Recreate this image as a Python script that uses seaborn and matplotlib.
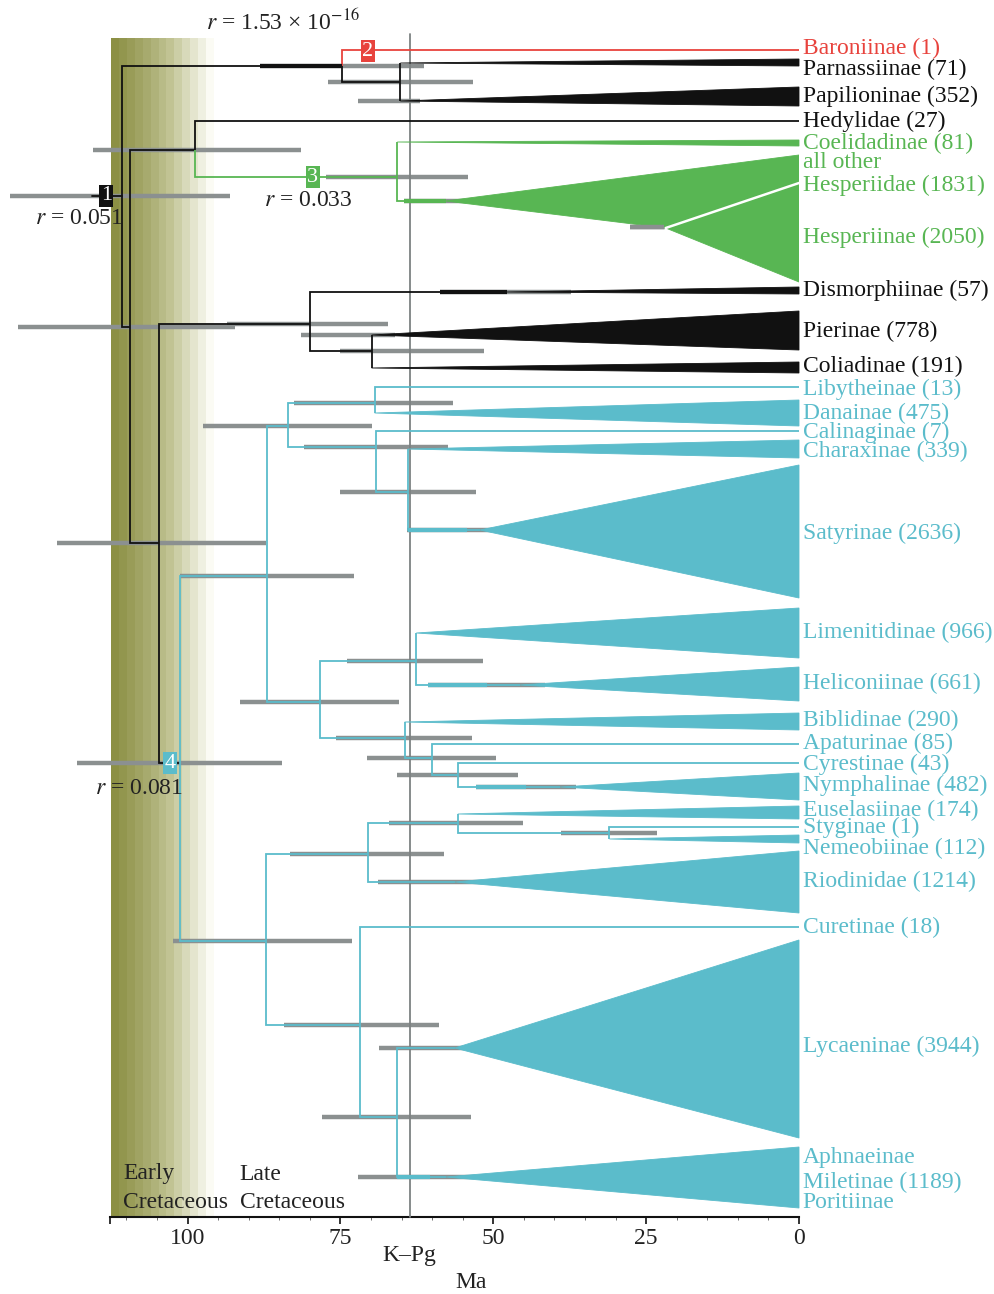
import numpy as np
import pandas as pd
import matplotlib
matplotlib.use("Agg")
import matplotlib.pyplot as plt
import seaborn as sns
from matplotlib.colors import LinearSegmentedColormap
from matplotlib.ticker import MultipleLocator

# ---------------- data ----------------
# internal nodes: id, age (Ma), row (layout), parent, colour group of its stem
node_id = ["root", "Pap", "PP", "B", "HH", "Hesp", "C", "Pier", "PC", "N4",
           "Nym", "n426", "n403", "n447", "n492", "n702", "n661", "n738",
           "n758", "n775", "RL", "Rio", "n823", "n833", "Lyc", "n1117"]
node_age = [110.8, 74.7, 65.2, 109.4, 98.8, 65.7, 104.7, 80.0, 69.9, 101.3,
            87.0, 83.6, 69.4, 69.2, 63.9, 78.4, 62.6, 64.5,
            60.1, 55.8, 87.2, 70.5, 55.8, 31.0, 71.8, 65.7]
node_row = [196, 66, 82, 327, 150, 177, 543, 324, 351, 763,
            576, 426, 403, 447, 492, 702, 661, 738,
            758, 775, 941, 854, 823, 833, 1025, 1117]
node_parent = [None, "root", "Pap", "root", "B", "HH", "B", "C", "Pier", "C",
               "N4", "Nym", "n426", "n426", "n447", "Nym", "n702", "n702",
               "n738", "n758", "N4", "RL", "Rio", "n823", "RL", "Lyc"]
node_group = ["k", "k", "k", "k", "k", "g", "k", "k", "k", "k",
              "c", "c", "c", "c", "c", "c", "c", "c",
              "c", "c", "c", "c", "c", "c", "c", "c"]

# single-line tips
line_name = ["Baroniinae", "Hedylidae", "Libytheinae", "Calinaginae",
             "Apaturinae", "Cyrestinae", "Styginae", "Curetinae"]
line_row = [50, 121, 387, 431, 744, 763, 827, 927]
line_parent = ["Pap", "HH", "n403", "n447", "n758", "n775", "n833", "Lyc"]
line_group = ["r", "k", "c", "c", "c", "c", "c", "c"]

# collapsed clades (wedges): apex age, apex row, tip top row, tip bottom row
clade_name = ["Parnassiinae", "Papilioninae", "Coelidadinae", "Dismorphiinae",
              "Pierinae", "Coliadinae", "Danainae", "Charaxinae", "Satyrinae",
              "Limenitidinae", "Heliconiinae", "Biblidinae", "Nymphalinae",
              "Euselasiinae", "Nemeobiinae", "Riodininae", "Lycaeninae",
              "Aphnaeinae+"]
clade_age = [65.2, 65.2, 65.7, 47.8, 69.9, 69.9, 69.4, 63.9, 52.2,
             62.6, 45.7, 64.5, 39.1, 55.8, 31.0, 56.3, 56.3, 57.8]
clade_row = [63, 101, 142, 292, 335, 368, 413, 449, 530,
             633, 685, 722, 787, 814, 839, 882, 1048, 1177]
clade_top = [59, 87, 140, 287, 311, 362, 400, 440, 465,
             608, 667, 713, 773, 806, 835, 851, 940, 1147]
clade_bot = [66, 106, 146, 294, 350, 373, 426, 458, 598,
             658, 701, 730, 800, 819, 843, 913, 1138, 1208]
clade_parent = ["PP", "PP", "Hesp", "Pier", "PC", "PC", "n403", "n492", "n492",
                "n661", "n661", "n738", "n775", "n823", "n833", "Rio", "n1117",
                "n1117"]
clade_group = ["k", "k", "g", "k", "k", "k", "c", "c", "c",
               "c", "c", "c", "c", "c", "c", "c", "c", "c"]

# Hesperiidae: all other Hesperiidae + Hesperiinae
hesp_apex_age, hesp_apex_row = 57.8, 201
hesp_top, hesp_split_row, hesp_bot = 155, 183, 282
hesperiinae_age, hesperiinae_row = 21.8, 228

# 95% HPD bars: row, oldest, youngest (Ma)
hpd_row = [196, 66, 82, 101, 150, 177, 201, 227, 292, 324, 327, 335, 351, 543,
           763, 576, 426, 403, 447, 492, 530, 702, 661, 685, 738, 758, 775, 787,
           941, 854, 823, 833, 882, 1025, 1117, 1048, 1177]
hpd_old = [129.0, 88.1, 77.0, 72.1, 115.5, 77.4, 64.6, 27.6, 58.7, 93.6, 127.8,
           81.4, 75.1, 121.3, 118.0, 101.2, 97.5, 82.6, 81.0, 75.1, 64.1, 91.4,
           74.0, 60.7, 75.7, 70.7, 65.7, 52.9, 102.4, 83.2, 67.0, 38.9, 68.9,
           84.2, 78.0, 68.7, 72.1]
hpd_young = [93.1, 61.4, 53.3, 62.0, 81.4, 54.2, 44.8, 21.9, 37.3, 67.2, 92.2,
             66.1, 51.5, 87.2, 84.6, 72.8, 69.9, 56.6, 57.4, 52.8, 44.6, 65.4,
             51.7, 41.5, 53.5, 49.5, 45.9, 36.4, 73.1, 58.0, 45.1, 23.3, 46.1,
             58.8, 53.6, 45.4, 48.0]

# stems drawn thick over HPD bars
thick_row = [66, 292, 201, 530, 685, 787, 1177]
thick_old = [88.1, 58.7, 64.6, 63.9, 60.7, 52.9, 65.7]
thick_young = [74.7, 47.8, 57.8, 54.3, 51.0, 44.7, 60.3]
thick_group = ["k", "k", "g", "c", "c", "c", "c"]

# tip labels
label_text = ["Baroniinae (1)", "Parnassiinae (71)", "Papilioninae (352)",
              "Hedylidae (27)", "Coelidadinae (81)", "all other",
              "Hesperiidae (1831)", "Hesperiinae (2050)", "Dismorphiinae (57)",
              "Pierinae (778)", "Coliadinae (191)", "Libytheinae (13)",
              "Danainae (475)", "Calinaginae (7)", "Charaxinae (339)",
              "Satyrinae (2636)", "Limenitidinae (966)", "Heliconiinae (661)",
              "Biblidinae (290)", "Apaturinae (85)", "Cyrestinae (43)",
              "Nymphalinae (482)", "Euselasiinae (174)", "Styginae (1)",
              "Nemeobiinae (112)", "Riodinidae (1214)", "Curetinae (18)",
              "Lycaeninae (3944)", "Aphnaeinae", "Miletinae (1189)", "Poritiinae"]
label_row = [48, 69, 96, 121, 143, 162, 185, 237, 290, 331, 366, 389, 413, 432,
             451, 533, 632, 683, 720, 743, 764, 785, 810, 827, 848, 881, 927,
             1046, 1157, 1182, 1203]
label_group = ["r", "k", "k", "k", "g", "g", "g", "g", "k", "k", "k"] + ["c"] * 20

# rate-shift nodes
shift_num = ["1", "2", "3", "4"]
shift_age = [113.3, 70.5, 79.5, 102.9]
shift_row = [196, 51, 177, 763]
shift_group = ["k", "r", "g", "c"]
rate_text = ["$r$ = 0.051", "$r$ = 1.53 × 10$^{-16}$", "$r$ = 0.033", "$r$ = 0.081"]
rate_age = [117.7, 84.4, 80.2, 108.0]
rate_row = [218, 22, 200, 788]

xticks = [100, 75, 50, 25, 0]
x_old = 112.6
kpg_age = 63.7
cretaceous_fade = (112.6, 95.8)

# ---------------- style ----------------
sns.set_theme(style="white")
plt.rcParams["font.family"] = ["Liberation Serif", "DejaVu Serif"]
plt.rcParams["mathtext.fontset"] = "stix"

COL = {"k": "#111111", "r": "#e8433d", "g": "#58b653", "c": "#5bbccb"}
BAR = "#8b9090"
LW = 1.3
FS = 17

fig = plt.figure(figsize=(9.95, 12.94), dpi=100)
ax = fig.add_axes([110.5 / 995, 1 - 1217 / 1294, (799 - 110.5) / 995, (1217 - 38) / 1294])
ax.set_xlim(x_old, 0)
ax.set_ylim(1217, 38)

# Early Cretaceous band (striped fade)
cmap = LinearSegmentedColormap.from_list(
    "cret", [(0, "#8c9044"), (0.3, "#a4a76a"), (0.6, "#c3c596"), (0.82, "#e2e3cb"), (1, "#fbfbf4")])
nstr = 13
ax.imshow(np.linspace(0, 1, nstr)[None, :], cmap=cmap, aspect="auto", interpolation="nearest",
          extent=(cretaceous_fade[0], cretaceous_fade[1], 1217, 38), zorder=0)

# HPD bars
hpd = pd.DataFrame({"row": hpd_row, "old": hpd_old, "young": hpd_young})
ax.hlines(hpd["row"], hpd["old"], hpd["young"], color=BAR, lw=3.2, zorder=2, clip_on=False)

# K-Pg line
ax.plot([kpg_age, kpg_age], [34, 1217], color="#7d8282", lw=1.3, zorder=3, clip_on=False)

nodes = pd.DataFrame({"id": node_id, "age": node_age, "row": node_row,
                      "parent": node_parent, "group": node_group}).set_index("id")


def elbow(parent, age, row, group, lw=LW):
    pa, pr = nodes.loc[parent, "age"], nodes.loc[parent, "row"]
    ax.plot([pa, pa, age], [pr, row, row], color=COL[group], lw=lw, zorder=4,
            solid_joinstyle="miter", solid_capstyle="butt", clip_on=False)


# root stem
ax.plot([115.6, node_age[0]], [node_row[0], node_row[0]], color=COL["k"], lw=LW, zorder=4, clip_on=False)
for nid, r in nodes.iterrows():
    if r["parent"] is not None:
        elbow(r["parent"], r["age"], r["row"], r["group"])

for nm, rw, p, g in zip(line_name, line_row, line_parent, line_group):
    elbow(p, 0, rw, g)

for nm, a, rw, t, b, p, g in zip(clade_name, clade_age, clade_row, clade_top, clade_bot,
                                 clade_parent, clade_group):
    elbow(p, a, rw, g)
    ax.fill([a, 0, 0], [rw, t, b], color=COL[g], lw=0.6, zorder=4, clip_on=False)

# Hesperiidae
elbow("Hesp", hesp_apex_age, hesp_apex_row, "g")
ax.fill([hesp_apex_age, 0, 0, hesperiinae_age], [hesp_apex_row, hesp_top, hesp_bot, hesperiinae_row],
        color=COL["g"], lw=0.6, zorder=4)
ax.plot([hesperiinae_age, 0], [hesperiinae_row, hesp_split_row], color="white", lw=1.8, zorder=5)
ax.hlines([227], [27.6], [hesperiinae_age + 0.3], color=BAR, lw=3.2, zorder=5)

# thick stems over bars
for rw, o, y, g in zip(thick_row, thick_old, thick_young, thick_group):
    ax.plot([o, y], [rw, rw], color=COL[g], lw=3.0, zorder=4.5, solid_capstyle="butt")

# tip labels
for t, rw, g in zip(label_text, label_row, label_group):
    ax.text(-0.6, rw, t, color=COL[g], fontsize=FS, va="center", ha="left", clip_on=False)

# shift boxes
for n, a, rw, g in zip(shift_num, shift_age, shift_row, shift_group):
    ax.text(a, rw, n, color="white", fontsize=16, ha="center", va="center", zorder=6,
            bbox=dict(boxstyle="square,pad=0.06", fc=COL[g], ec="none"), clip_on=False)
for t, a, rw in zip(rate_text, rate_age, rate_row):
    ax.text(a, rw, t, color="#222222", fontsize=FS, ha="center", va="center", zorder=6, clip_on=False)

# period labels
ax.text(110.5, 1173, "Early", fontsize=FS, ha="left", va="center", color="#222222")
ax.text(110.5, 1202, "Cretaceous", fontsize=FS, ha="left", va="center", color="#222222")
ax.text(91.5, 1174, "Late", fontsize=FS, ha="left", va="center", color="#222222")
ax.text(91.5, 1203, "Cretaceous", fontsize=FS, ha="left", va="center", color="#222222")
ax.text(kpg_age, 1256, "K–Pg", fontsize=FS, ha="center", va="center", clip_on=False, color="#222222")
ax.text(53.7, 1282, "Ma", fontsize=FS, ha="center", va="center", clip_on=False, color="#222222")

# axis
sns.despine(ax=ax, left=True, top=True, right=True)
ax.spines["bottom"].set_color("#111111")
ax.spines["bottom"].set_linewidth(1.5)
ax.set_yticks([])
ax.set_xticks([x_old] + xticks)
ax.set_xticklabels([""] + [str(v) for v in xticks], fontsize=FS, color="#222222")
ax.xaxis.set_minor_locator(MultipleLocator(5))
ax.tick_params(axis="x", which="major", bottom=True, length=5, width=1.2, color="#111111", pad=3)
ax.tick_params(axis="x", which="minor", bottom=True, length=2, width=0.6, color="#555555")
ax.grid(False)

fig.savefig("out.png", dpi=100)
